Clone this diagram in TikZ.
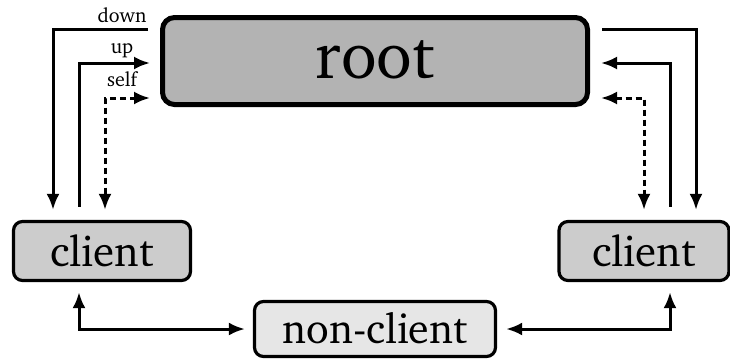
\documentclass[tikz,border=0pt]{standalone}
\usepackage[T1]{fontenc}
\usepackage{charter}
\usetikzlibrary{arrows.meta}
\definecolor{rootfill}{HTML}{B3B3B3}
\definecolor{clientfill}{HTML}{CCCCCC}
\definecolor{nonfill}{HTML}{E6E6E6}
\begin{document}
\begin{tikzpicture}[x=1pt,y=-1pt,
  rootbox/.style={draw=black, line width=5pt, rounded corners=12pt, fill=rootfill, inner sep=0pt,
    font=\fontsize{66}{66}\selectfont, text height=34pt, text depth=0pt},
  clientbox/.style={draw=black, line width=3.2pt, rounded corners=9pt, fill=clientfill, inner sep=0pt,
    font=\fontsize{43}{43}\selectfont, text height=30pt, text depth=0pt},
  nonbox/.style={draw=black, line width=3.2pt, rounded corners=9pt, fill=nonfill, inner sep=0pt,
    font=\fontsize{42}{42}\selectfont, text height=28pt, text depth=0pt},
  arr/.style={line width=3pt, -{Latex[length=16pt,width=13pt]}},
  darr/.style={line width=3pt, {Latex[length=16pt,width=13pt]}-{Latex[length=16pt,width=13pt]}},
  sarr/.style={line width=3pt, dash pattern=on 6pt off 4pt, {Latex[length=16pt,width=13pt]}-{Latex[length=16pt,width=13pt]}},
  lab/.style={anchor=base, inner sep=0pt, font=\fontsize{20}{20}\selectfont}]
\useasboundingbox (0,0) rectangle (730,360);
\node[rootbox, minimum width=425pt, minimum height=87pt] (root) at (375,61) {root};
\node[clientbox, minimum width=177pt, minimum height=59pt] (lc) at (102,251) {client};
\node[clientbox, minimum width=170pt, minimum height=59pt] (rc) at (644,251) {client};
\node[nonbox, minimum width=241pt, minimum height=55pt] (nc) at (375,329) {non-client};
% left side
\draw[arr] ([xshift=-12pt]root.west |- 0,29) -| ([yshift=10pt]lc.north -| 53,0);
\draw[arr] ([yshift=13pt]lc.north -| 79,0) |- ([xshift=-10pt]root.west |- 0,63);
\draw[sarr] ([xshift=-10pt]root.west |- 0,98) -| ([yshift=10pt]lc.north -| 105,0);
\node[lab] (ldown) at (122,22) {down};
\node[lab] (lup) at (122,53) {up};
\node[lab] (lself) at (122,86) {self};
% right side
\draw[arr] ([xshift=12pt]root.east |- 0,29) -| ([yshift=10pt]rc.north -| 696,0);
\draw[arr] ([yshift=13pt]rc.north -| 670,0) |- ([xshift=11pt]root.east |- 0,63);
\draw[sarr] ([xshift=11pt]root.east |- 0,98) -| ([yshift=10pt]rc.north -| 644,0);
% bottom
\draw[darr] ([yshift=-10pt]lc.south -| 79,0) |- ([xshift=-8pt]nc.west);
\draw[darr] ([xshift=9pt]nc.east) -| ([yshift=-10pt]rc.south -| 670,0);
\end{tikzpicture}
\end{document}
